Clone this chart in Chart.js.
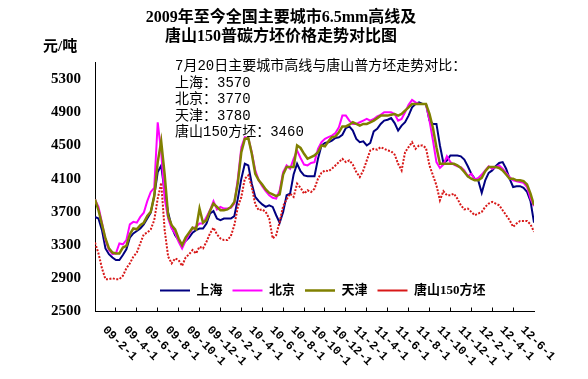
<!DOCTYPE html>
<html>
<head>
<meta charset="utf-8">
<script src="https://cdn.jsdelivr.net/npm/chart.js@4.4.1/dist/chart.umd.min.js"></script>
<style>
html,body{margin:0;padding:0;background:#fff;}
canvas{display:block;}
</style>
</head>
<body>
<canvas id="c" width="588" height="379"></canvas>
<script>
// ---- data (one value per ~10 days) ----
const titleLines = ['2009年至今全国主要城市6.5mm高线及', '唐山150普碳方坯价格走势对比图'];
const unitLabel = '元/吨';
const noteLines = ['7月20日主要城市高线与唐山普方坯走势对比：', '上海：3570', '北京：3770', '天津：3780', '唐山150方坯：3460'];
const seriesNames = ['上海', '北京', '天津', '唐山150方坯'];
const xTickVals = [2,4,6,8,10,12,14,16,18,20,22,24,26,28,30,32,34,36,38,40,42];
const xTickLabels = ['09-2-1','09-4-1','09-6-1','09-8-1','09-10-1','09-12-1','10-2-1','10-4-1','10-6-1','10-8-1','10-10-1','10-12-1','11-2-1','11-4-1','11-6-1','11-8-1','11-10-1','11-12-1','12-2-1','12-4-1','12-6-1'];
const yTicks = [2500,2900,3300,3700,4100,4500,4900,5300];

const shanghai = [3640,3620,3480,3260,3190,3150,3120,3120,3180,3250, 3390,3440,3470,3500,3550,3620,3690,3890,4180,4260, 3930,3690,3520,3420,3360,3300,3350,3390,3450,3480, 3500,3500,3560,3680,3710,3620,3600,3620,3620,3620, 3650,3860,4100,4280,4260,4040,3880,3830,3790,3760, 3780,3760,3660,3570,3700,3900,3920,4150,4280,4190, 4140,4130,4130,4130,4340,4500,4530,4540,4560,4590, 4600,4630,4710,4730,4680,4580,4540,4550,4500,4530, 4670,4700,4760,4800,4810,4830,4770,4680,4740,4780, 4860,4960,5000,5020,5000,5000,4800,4760,4760,4500, 4290,4320,4380,4380,4380,4370,4330,4250,4160,4100, 4080,3930,4080,4170,4200,4250,4290,4300,4220,4100, 4000,4010,4010,3990,3940,3830,3570];
const beijing = [3850,3760,3570,3360,3240,3190,3200,3320,3310,3360, 3550,3580,3570,3640,3690,3830,3940,3990,4780,4420, 3860,3620,3500,3440,3340,3260,3350,3430,3500,3520, 3560,3560,3640,3720,3830,3730,3760,3740,3740,3750, 3800,4100,4480,4600,4590,4420,4200,4080,4010,3950, 3900,3870,3860,3960,4180,4260,4220,4340,4440,4350, 4270,4260,4290,4300,4460,4540,4580,4600,4620,4650, 4720,4860,4860,4800,4760,4760,4780,4800,4820,4800, 4820,4850,4870,4900,4900,4900,4880,4800,4820,4900, 4990,5050,5020,5000,5000,5000,4800,4560,4300,4230, 4270,4370,4300,4270,4250,4240,4200,4130,4160,4090, 4110,4150,4200,4250,4220,4240,4260,4220,4170,4120, 4080,4070,4060,4050,4000,3860,3770];
const tianjin = [3850,3720,3550,3380,3260,3210,3200,3200,3270,3290, 3430,3500,3490,3540,3570,3650,3700,3890,4300,4550, 4150,3650,3540,3490,3380,3300,3390,3450,3510,3490, 3740,3570,3600,3710,3800,3760,3720,3720,3730,3760, 3820,4050,4420,4580,4590,4400,4160,4080,4030,3970, 3930,3910,3890,3910,4150,4240,4240,4240,4500,4470, 4400,4340,4360,4380,4420,4500,4490,4550,4600,4610, 4660,4730,4730,4750,4780,4760,4740,4760,4760,4780, 4800,4830,4860,4860,4860,4870,4880,4860,4880,4920, 4960,5000,5000,5000,5000,5000,4880,4710,4480,4280, 4280,4280,4280,4280,4260,4230,4180,4130,4100,4080, 4080,4110,4190,4240,4240,4240,4230,4200,4150,4100, 4100,4080,4080,4070,4030,3920,3780];
const tangshan = [3330,3200,3020,2890,2890,2900,2890,2890,2930,3020, 3080,3160,3210,3320,3430,3450,3490,3600,3860,4050, 3480,3160,3080,3140,3120,3050,3150,3190,3240,3200, 3280,3260,3340,3440,3510,3430,3380,3360,3360,3410, 3540,3760,3880,4100,4140,4000,3790,3720,3730,3700, 3620,3380,3420,3580,3770,3850,3920,3880,4040,3990, 3920,3960,3940,3980,4100,4170,4200,4190,4220,4260, 4300,4340,4300,4320,4270,4180,4120,4200,4320,4440, 4460,4450,4480,4460,4440,4430,4390,4280,4200,4420, 4480,4540,4460,4500,4500,4470,4260,4140,4020,3840, 3950,3900,3900,3920,3860,3780,3730,3740,3700,3660, 3680,3700,3760,3800,3820,3800,3780,3720,3660,3600, 3520,3560,3590,3590,3590,3550,3460];

// each sample sits one third of a month after the previous one on the time axis
const toPoints = (vals) => vals.map((v, i) => ({ x: i / 3, y: v }));

const CJK = '"Noto Sans CJK SC"';
const overlay = {
  id: 'overlay',
  beforeUpdate(chart) {
    const lg = chart.legend;
    if (lg && !lg._inPlot) {
      const fit = lg.fit;
      lg.fit = function () { fit.call(this); this.height = 0; };
      lg._inPlot = true;
    }
  },
  beforeDraw(chart) {
    const lg = chart.legend;
    if (lg) { lg.left = 150; lg.right = 570; lg.top = 274; lg.bottom = 310; }
    const sx = chart.scales.x;
    sx._getXAxisLabelAlignment = () => 'left';
    sx._labelItems = null;
  },
  afterDraw(chart) {
    const ctx = chart.ctx;
    const a = chart.chartArea;
    ctx.save();
    ctx.fillStyle = '#000';
    ctx.textBaseline = 'middle';
    ctx.textAlign = 'left';
    ctx.font = 'bold 15px "Liberation Serif", ' + CJK;
    ctx.fillText(unitLabel, 43, 47);
    ctx.font = '14px "Liberation Mono", ' + CJK;
    noteLines.forEach((t, i) => ctx.fillText(t, a.left + 80, a.top + 4 + 16.5 * i));
    ctx.restore();
  }
};

new Chart(document.getElementById('c'), {
  type: 'line',
  data: {
    datasets: [
      { label: seriesNames[0], data: toPoints(shanghai), borderColor: '#000080', backgroundColor: '#000080', borderWidth: 2, order: 4 },
      { label: seriesNames[1], data: toPoints(beijing), borderColor: '#ff00ff', backgroundColor: '#ff00ff', borderWidth: 2, order: 3 },
      { label: seriesNames[2], data: toPoints(tianjin), borderColor: '#808000', backgroundColor: '#808000', borderWidth: 2.5, order: 2 },
      { label: seriesNames[3], data: toPoints(tangshan), borderColor: '#d81818', backgroundColor: '#d81818', borderWidth: 2, borderDash: [2, 1.5], order: 1 }
    ]
  },
  options: {
    responsive: false,
    devicePixelRatio: 1,
    animation: false,
    layout: { padding: { top: 0, left: 28, right: 54, bottom: 0 } },
    elements: { point: { radius: 0 }, line: { tension: 0 } },
    plugins: {
      tooltip: { enabled: false },
      title: {
        display: true,
        text: titleLines,
        color: '#000',
        font: { family: '"Liberation Serif", ' + CJK, size: 16, weight: 'bold', lineHeight: '19px' },
        padding: { top: 8, bottom: 16.5 }
      },
      legend: {
        display: true,
        position: 'top',
        align: 'start',
        labels: {
          usePointStyle: true,
          pointStyle: 'line',
          pointStyleWidth: 30,
          padding: 10,
          color: '#000',
          font: { family: '"Liberation Serif", ' + CJK, size: 13, weight: 'bold' },
          sort: (a, b) => a.datasetIndex - b.datasetIndex
        }
      }
    },
    scales: {
      x: {
        type: 'linear',
        min: 0,
        max: 42,
        afterBuildTicks: (s) => { s.ticks = xTickVals.map(v => ({ value: v })); },
        afterFit: (s) => { s.height = 67.5; },
        ticks: {
          autoSkip: false,
          minRotation: -45,
          maxRotation: -45,
          padding: 15.5,
          labelOffset: -11.5,
          color: '#000',
          font: { family: '"Liberation Mono"', size: 12, weight: 'bold' },
          callback: (v, i) => xTickLabels[i]
        },
        grid: {
          display: true,
          drawOnChartArea: false,
          drawTicks: true,
          tickLength: -4,
          color: '#000',
          tickColor: (c) => (c.index === xTickVals.length - 1 ? 'rgba(0,0,0,0)' : '#000')
        },
        border: { display: true, color: '#000', width: 1 }
      },
      y: {
        type: 'linear',
        min: 2500,
        max: 5500,
        afterBuildTicks: (s) => { s.ticks = yTicks.map(v => ({ value: v })); },
        afterFit: (s) => { s.width = 67; },
        ticks: {
          padding: 14,
          color: '#000',
          font: { family: '"Liberation Serif"', size: 15, weight: 'bold' },
          callback: (v) => String(v)
        },
        grid: { display: false, drawTicks: false },
        border: { display: true, color: '#000', width: 1 }
      }
    }
  },
  plugins: [overlay]
});
</script>
</body>
</html>
